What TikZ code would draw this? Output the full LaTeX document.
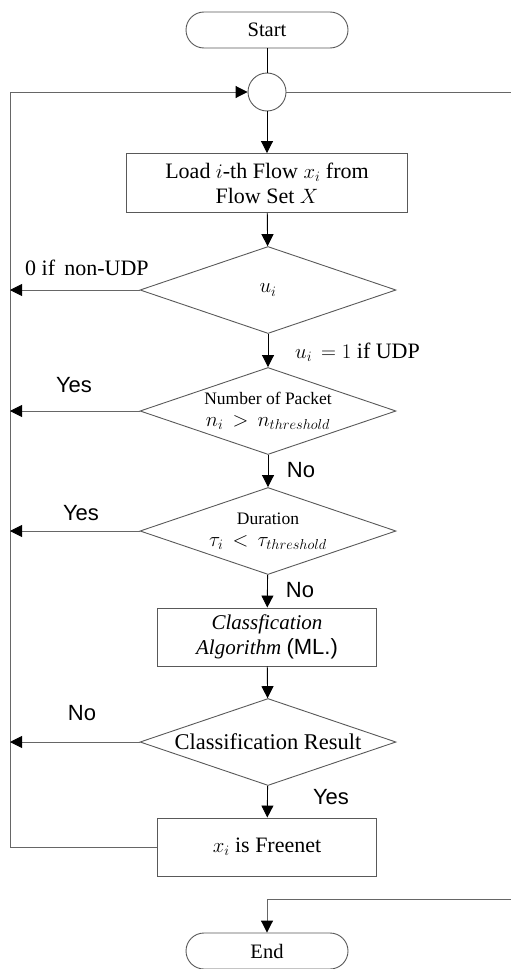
\documentclass[tikz,border=0pt]{standalone}
\usepackage{fontspec}
\setmainfont{Liberation Serif}
\newfontfamily\arial{Liberation Sans}
\usetikzlibrary{shapes.geometric,arrows.meta}
\begin{document}
\begin{tikzpicture}[x=1pt,y=-1pt,
  every node/.style={font=\fontsize{22}{25}\selectfont},
  shp/.style={draw=black!65,line width=0.9pt},
  term/.style={shp,rounded corners=18pt,minimum width=162pt,minimum height=36pt,inner sep=0pt,font=\fontsize{20.5}{23}\selectfont},
  proc/.style={shp,rectangle,inner sep=0pt,align=center},
  dec/.style={shp,diamond,minimum width=256pt,minimum height=87pt,inner sep=0pt,aspect=2.9,align=center},
  conn/.style={draw=black,line width=0.9pt},
  loopl/.style={draw=black!60,line width=0.9pt},
  arr/.style={-{Triangle[length=12pt,width=12pt,color=black]}},
  lbl/.style={font=\arial\fontsize{22}{25}\selectfont,inner sep=0pt},
  slbl/.style={inner sep=0pt}]
\useasboundingbox (0,0) rectangle (511,969);
\node[term] (start) at (267,30) {Start};
\node[shp,circle,minimum size=38pt,inner sep=0pt] (circ) at (267,92) {};
\node[proc,minimum width=281pt,minimum height=59pt] (load) at (267,183) {Load $i$-th Flow $x_i$ from\\Flow Set $X$};
\node[dec] (d1) at (268,290) {$u_i$};
\node[dec] (d2) at (268,411) {{\fontsize{17.5}{19}\selectfont Number of Packet}\\[-3pt]$n_i\,>\,n_{threshold}$};
\node[dec] (d3) at (268,531) {{\fontsize{17.5}{19}\selectfont Duration}\\[-3pt]$\tau_i\,<\,\tau_{threshold}$};
\node[proc,minimum width=219pt,minimum height=58pt,font=\fontsize{21}{25}\selectfont] (cls) at (267,637) {$\mathit{Classfication}$\\$\mathit{Algorithm}$ {\arial\fontsize{22}{25}\selectfont(ML.)}};
\node[dec,font=\fontsize{22.5}{25}\selectfont] (d4) at (268,742) {Classification Result};
\node[proc,minimum width=219pt,minimum height=58pt] (free) at (267,847) {$x_i$ is Freenet};
\node[term] (end) at (267,951) {End};
\coordinate (lt) at (10,92);
\coordinate (lb) at (10,847);
\coordinate (rt) at (511,92);
\coordinate (rb) at (511,899);
% main flow
\draw[conn] (start) -- (circ);
\draw[conn,arr] (circ) -- (load);
\draw[conn,arr] (load) -- (d1);
\draw[conn,arr] (d1) -- (d2);
\draw[conn,arr] (d2) -- (d3);
\draw[conn,arr] (d3) -- (cls);
\draw[conn,arr] (cls) -- (d4);
\draw[conn,arr] (d4) -- (free);
% loop
\draw[loopl] (free.west) -- (lb) -- (lt);
\draw[loopl,arr] (lt) -- (circ.west);
\draw[loopl,arr] (d1.west) -- (d1.west -| lt);
\draw[loopl,arr] (d2.west) -- (d2.west -| lt);
\draw[loopl,arr] (d3.west) -- (d3.west -| lt);
\draw[loopl,arr] (d4.west) -- (d4.west -| lt);
% exit
\draw[loopl] (circ.east) -- (rt);
\draw[loopl,arr] (rb) -| (end.north);
% labels
\node[slbl,anchor=west] (l0) at (25,268) {0 if\, non-UDP};
\node[slbl,anchor=west] (l1) at (295,352) {$u_i$\, $=1$ if UDP};
\node[lbl] (y1) at (74,385) {Yes};
\node[lbl] (n1) at (301,470) {No};
\node[lbl] (y2) at (81,513) {Yes};
\node[lbl] (n2) at (300,590) {No};
\node[lbl] (n3) at (82,713) {No};
\node[lbl] (y3) at (331,797) {Yes};
\end{tikzpicture}
\end{document}
